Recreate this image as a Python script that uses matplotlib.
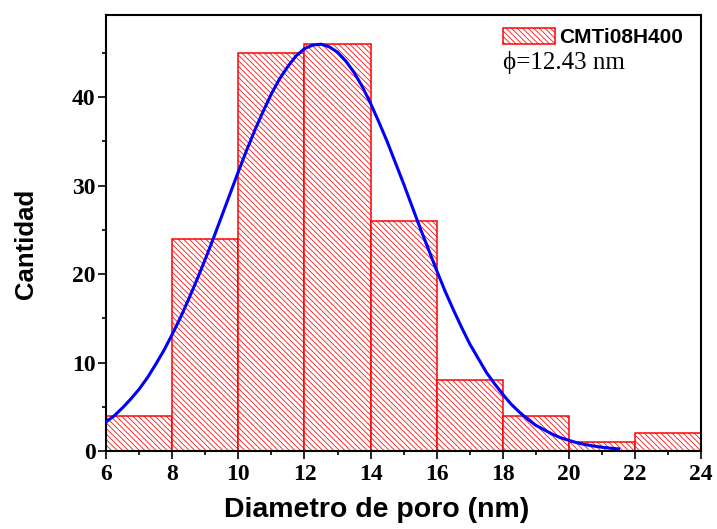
import numpy as np
import matplotlib as mpl
mpl.use('Agg')
import matplotlib.pyplot as plt
from matplotlib.ticker import MultipleLocator

# histogram bins (nm) and counts
bin_edges = [6, 8, 10, 12, 14, 16, 18, 20, 22, 24]
counts = [4, 24, 45, 46, 26, 8, 4, 1, 2]

# fitted curve
fit_x = [6.0, 6.25, 6.5, 6.75, 7.0, 7.25, 7.5, 7.75, 8.0, 8.25, 8.5, 8.75,
         9.0, 9.25, 9.5, 9.75, 10.0, 10.25, 10.5, 10.75, 11.0, 11.25, 11.5,
         11.75, 12.0, 12.25, 12.5, 12.75, 13.0, 13.25, 13.5, 13.75, 14.0,
         14.25, 14.5, 14.75, 15.0, 15.25, 15.5, 15.75, 16.0, 16.25, 16.5,
         16.75, 17.0, 17.25, 17.5, 17.75, 18.0, 18.25, 18.5, 18.75, 19.0,
         19.25, 19.5, 19.75, 20.0, 20.25, 20.5, 20.75, 21.0, 21.25, 21.5]
fit_y = [3.3, 4.0, 4.9, 5.9, 7.0, 8.3, 9.8, 11.4, 13.2, 15.1, 17.2, 19.4,
         21.7, 24.1, 26.6, 29.1, 31.6, 34.0, 36.3, 38.4, 40.4, 42.1, 43.5,
         44.7, 45.5, 45.9, 46.0, 45.7, 45.1, 44.1, 42.8, 41.2, 39.3,
         37.2, 35.0, 32.6, 30.2, 27.7, 25.2, 22.8, 20.4, 18.1, 16.0,
         14.0, 12.1, 10.5, 8.9, 7.6, 6.4, 5.3, 4.4, 3.6, 2.9,
         2.4, 1.9, 1.5, 1.2, 0.93, 0.72, 0.56, 0.43, 0.32, 0.24]

sample = "CMTi08H400"
mean_text = "\u03d5=12.43 nm"

plt.rcParams['hatch.color'] = '#ff6e6e'
plt.rcParams['hatch.linewidth'] = 0.55

fig = plt.figure(figsize=(7.17, 5.29), dpi=100)
ax = fig.add_axes([0.148, 0.1474, 0.83, 0.8242])

lefts = bin_edges[:-1]
widths = np.diff(bin_edges)
ax.bar(lefts, counts, width=widths, align='edge', facecolor='white',
       edgecolor='red', linewidth=1.1, hatch='\\\\\\\\\\\\', label=sample)
ax.plot(fit_x, fit_y, color='blue', lw=2.2, zorder=3)

ax.set_xlim(6, 24)
ax.set_ylim(0, 49.3)
ax.xaxis.set_major_locator(MultipleLocator(2))
ax.xaxis.set_minor_locator(MultipleLocator(1))
ax.yaxis.set_major_locator(MultipleLocator(10))
ax.yaxis.set_minor_locator(MultipleLocator(5))
ax.tick_params(which='major', direction='out', length=6, width=1.2)
ax.tick_params(which='minor', direction='out', length=3, width=1.2)
ax.tick_params(axis='y', which='major', pad=1.5)
ax.tick_params(axis='x', which='major', pad=3)
for lbl in ax.get_xticklabels() + ax.get_yticklabels():
    lbl.set_family('Liberation Serif')
    lbl.set_fontweight('bold')
    lbl.set_fontsize(17)
for sp in ax.spines.values():
    sp.set_linewidth(1.5)

ax.set_xlabel("Diametro de poro (nm)", family='Liberation Sans',
              fontweight='bold', fontsize=20.5)
ax.set_ylabel("Cantidad", family='Liberation Sans',
              fontweight='bold', fontsize=18.5)
ax.xaxis.set_label_coords(0.455, -0.135)
ax.yaxis.set_label_coords(-0.134, 0.476)
ax.xaxis.label.set_va('center')
ax.yaxis.label.set_va('center')

leg = ax.legend(loc='upper left', frameon=False, fontsize=15,
                handlelength=2.5, handleheight=0.82, handletextpad=0.2,
                borderpad=0, borderaxespad=0,
                bbox_to_anchor=(0.667, 0.971))
for t in leg.get_texts():
    t.set_family('Liberation Sans')
    t.set_fontweight('bold')
ax.text(0.667, 0.89, mean_text, transform=ax.transAxes,
        family='Liberation Serif', fontsize=18, va='center')

fig.savefig("out.png", dpi=100)
